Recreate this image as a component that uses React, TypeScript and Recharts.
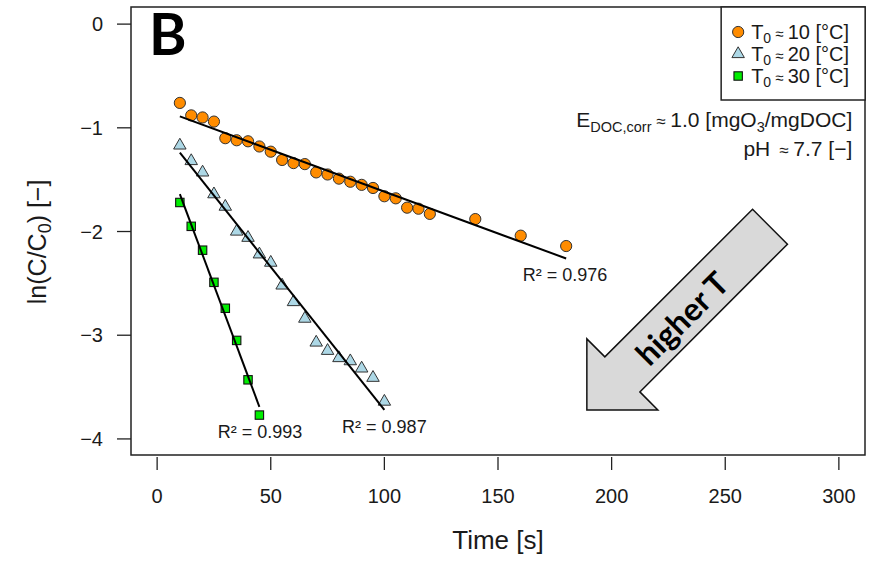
import React from 'react';
import { ScatterChart, Scatter, XAxis, YAxis, ReferenceDot, ReferenceArea } from 'recharts';

const FONT = "'Liberation Sans', Arial, Helvetica, sans-serif";

// --- data ---
const seriesLabels = ['10', '20', '30'];
const seriesColors = ['#FF8C00', '#ADD8E6', '#00EE00'];
const seriesShapes = ['circle', 'triangle', 'square'];

const times10 = [10, 15, 20, 25, 30, 35, 40, 45, 50, 55, 60, 65, 70, 75, 80, 85, 90, 95, 100, 105, 110, 115, 120, 140, 160, 180];
const lnC10 = [-0.76, -0.88, -0.9, -0.94, -1.1, -1.12, -1.13, -1.18, -1.23, -1.31, -1.34, -1.35, -1.43, -1.45, -1.49, -1.52, -1.55, -1.58, -1.66, -1.68, -1.77, -1.78, -1.83, -1.88, -2.04, -2.14];

const times20 = [10, 15, 20, 25, 30, 35, 40, 45, 50, 55, 60, 65, 70, 75, 80, 85, 90, 95, 100];
const lnC20 = [-1.17, -1.32, -1.43, -1.64, -1.76, -2.0, -2.06, -2.22, -2.3, -2.52, -2.68, -2.84, -3.07, -3.15, -3.22, -3.25, -3.32, -3.41, -3.64];

const times30 = [10, 15, 20, 25, 30, 35, 40, 45];
const lnC30 = [-1.72, -1.95, -2.18, -2.49, -2.74, -3.05, -3.43, -3.77];

const fitT10 = [10, 180];
const fitY10 = [-0.89, -2.26];
const fitT20 = [10, 100];
const fitY20 = [-1.24, -3.72];
const fitT30 = [10, 45];
const fitY30 = [-1.64, -3.69];

const r2Text = ['R² = 0.976', 'R² = 0.987', 'R² = 0.993'];
const r2T = [179.5, 100, 45.3];
const r2V = [-2.48, -3.94, -3.99];

const xTicks = [0, 50, 100, 150, 200, 250, 300];
const yTicks = [0, -1, -2, -3, -4];
const xDomain = [-11.5, 311.5];
const yDomain = [-4.155, 0.165];

const toRows = (ts: number[], vs: number[]) => ts.map((t, i) => ({ t, v: vs[i] }));
const data10 = toRows(times10, lnC10);
const data20 = toRows(times20, lnC20);
const data30 = toRows(times30, lnC30);
const fit10 = toRows(fitT10, fitY10);
const fit20 = toRows(fitT20, fitY20);
const fit30 = toRows(fitT30, fitY30);

const STROKE = '#333';

function Marker({ kind, cx, cy, color }: any) {
  if (kind === 'circle') {
    return <circle cx={cx} cy={cy} r={5.6} fill={color} stroke={STROKE} strokeWidth={1} />;
  }
  if (kind === 'triangle') {
    const r = 7.2;
    const pts = `${cx},${cy - r} ${cx + r * 0.866},${cy + r / 2} ${cx - r * 0.866},${cy + r / 2}`;
    return <polygon points={pts} fill={color} stroke={STROKE} strokeWidth={1} />;
  }
  const s = 8.4;
  return <rect x={cx - s / 2} y={cy - s / 2} width={s} height={s} fill={color} stroke="#111" strokeWidth={1.1} />;
}

const XTick = (p: any) => {
  const { x, y, payload } = p;
  return (
    <g>
      <line x1={x} x2={x} y1={y + 2} y2={y + 15} stroke="#222" strokeWidth={1.3} />
      <text x={x} y={y + 48} textAnchor="middle" fontSize={20} fontFamily={FONT} fill="#1a1a1a">
        {payload.value}
      </text>
    </g>
  );
};

const YTick = (p: any) => {
  const { x, y, payload } = p;
  const v = payload.value;
  const label = v < 0 ? `\u2212${Math.abs(v)}` : `${v}`;
  return (
    <g>
      <line x1={x - 14} x2={x} y1={y} y2={y} stroke="#222" strokeWidth={1.3} />
      <text x={x - 28} y={y} dy="0.35em" textAnchor="end" fontSize={20} fontFamily={FONT} fill="#1a1a1a">
        {label}
      </text>
    </g>
  );
};

const noShape = () => <g />;

export default function App() {
  return (
    <div style={{ position: 'absolute', left: 0, top: 0, background: '#fff' }}>
      <ScatterChart width={871} height={563} margin={{ top: 7, right: 6, bottom: 0, left: 0 }}>
        <XAxis
          type="number"
          dataKey="t"
          domain={xDomain}
          allowDataOverflow
          ticks={xTicks}
          interval={0}
          height={108}
          tickSize={0}
          tickMargin={0}
          axisLine={false}
          tickLine={false}
          tick={XTick}
        />
        <YAxis
          type="number"
          dataKey="v"
          domain={yDomain}
          allowDataOverflow
          ticks={yTicks}
          interval={0}
          width={131}
          tickSize={0}
          tickMargin={0}
          axisLine={false}
          tickLine={false}
          tick={YTick}
        />
        <ReferenceArea
          x1={xDomain[0]}
          x2={xDomain[1]}
          y1={yDomain[0]}
          y2={yDomain[1]}
          fill="none"
          fillOpacity={0}
          stroke="#222"
          strokeWidth={1.5}
          ifOverflow="visible"
        />
        {[data10, data20, data30].map((d, i) => (
          <Scatter
            key={'s' + i}
            name={seriesLabels[i]}
            data={d}
            fill={seriesColors[i]}
            isAnimationActive={false}
            shape={(p: any) => <Marker kind={seriesShapes[i]} cx={p.cx} cy={p.cy} color={seriesColors[i]} />}
          />
        ))}
        {[fit10, fit20, fit30].map((d, i) => (
          <Scatter
            key={'f' + i}
            data={d}
            legendType="none"
            line={{ stroke: '#000', strokeWidth: 2 }}
            shape={noShape}
            isAnimationActive={false}
          />
        ))}
        {r2Text.map((txt, i) => (
          <ReferenceDot
            key={'r' + i}
            x={r2T[i]}
            y={r2V[i]}
            r={0}
            ifOverflow="visible"
            shape={(p: any) => (
              <text x={p.cx} y={p.cy} textAnchor="middle" fontSize={18} fontFamily={FONT} fill="#1a1a1a">
                {txt}
              </text>
            )}
          />
        ))}
        {/* panel letter */}
        <ReferenceDot
          x={-3.6}
          y={-0.3}
          r={0}
          ifOverflow="visible"
          shape={(p: any) => (
            <text x={p.cx} y={p.cy} fontSize={57} fontWeight={700} fontFamily="Lato, 'Open Sans', sans-serif" fill="#000">
              B
            </text>
          )}
        />
        {/* legend */}
        <ReferenceDot
          x={248.2}
          y={yDomain[1]}
          r={0}
          ifOverflow="visible"
          shape={(p: any) => (
            <g>
              <rect x={p.cx} y={p.cy} width={144} height={93} fill="#fff" stroke="#222" strokeWidth={1.5} />
              {seriesLabels.map((lab, i) => (
                <g key={lab}>
                  <Marker kind={seriesShapes[i]} cx={p.cx + 17} cy={p.cy + 25 + i * 22} color={seriesColors[i]} />
                  <text x={p.cx + 30} y={p.cy + 25 + i * 22} dy="0.36em" fontSize={20} fontFamily={FONT} fill="#1a1a1a">
                    T
                    <tspan fontSize={14} dy={4}>0</tspan>
                    <tspan dy={-4} fontSize={15}> ≈ </tspan>
                    <tspan>{lab} [°C]</tspan>
                  </text>
                </g>
              ))}
            </g>
          )}
        />
        {/* annotations */}
        <ReferenceDot
          x={305.9}
          y={-0.99}
          r={0}
          ifOverflow="visible"
          shape={(p: any) => (
            <g>
              <text x={p.cx} y={p.cy} textAnchor="end" fontSize={21} fontFamily={FONT} fill="#1a1a1a">
                E<tspan fontSize={14.5} dy={5}>DOC,corr</tspan>
                <tspan dy={-5} fontSize={17}> ≈ </tspan>
                <tspan>1.0 [mgO</tspan>
                <tspan fontSize={14.5} dy={5}>3</tspan>
                <tspan dy={-5}>/mgDOC]</tspan>
              </text>
              <text x={p.cx} y={p.cy + 29.5} textAnchor="end" fontSize={21} fontFamily={FONT} fill="#1a1a1a">
                pH<tspan fontSize={17} dx={9}>≈ </tspan>
                <tspan>7.7 [−]</tspan>
              </text>
            </g>
          )}
        />
        {/* arrow */}
        <ReferenceDot
          x={189.1}
          y={-3.72}
          r={0}
          ifOverflow="visible"
          shape={(p: any) => {
            const cx = p.cx;
            const cy = p.cy;
            const pts = [
              [0, 0],
              [0, -71],
              [18, -53],
              [165.7, -200.6],
              [200.6, -165.7],
              [53, -18],
              [71, 0],
            ]
              .map(([dx, dy]) => `${cx + dx},${cy + dy}`)
              .join(' ');
            const a = 132;
            const b = 3;
            const tx = cx + (a + b) / Math.SQRT2;
            const ty = cy + (b - a) / Math.SQRT2;
            return (
              <g>
                <polygon points={pts} fill="#d9d9d9" stroke="#111" strokeWidth={1.5} />
                <text
                  x={0}
                  y={0}
                  dy="0.35em"
                  textAnchor="middle"
                  transform={`translate(${tx},${ty}) rotate(-45)`}
                  fontSize={32}
                  fontWeight={700}
                  fontFamily="Lato, 'Open Sans', sans-serif"
                  fill="#000"
                >
                  higher T
                </text>
              </g>
            );
          }}
        />
        {/* axis titles */}
        <ReferenceDot
          x={xDomain[0]}
          y={-2.1}
          r={0}
          ifOverflow="visible"
          shape={(p: any) => (
            <text
              x={0}
              y={0}
              dy="0.35em"
              textAnchor="middle"
              transform={`translate(${p.cx - 94},${p.cy}) rotate(-90)`}
              fontSize={25}
              fontFamily={FONT}
              fill="#1a1a1a"
            >
              ln(C/C<tspan fontSize={18} dy={5}>0</tspan>
              <tspan dy={-5}>) [−]</tspan>
            </text>
          )}
        />
        <ReferenceDot
          x={150}
          y={yDomain[0]}
          r={0}
          ifOverflow="visible"
          shape={(p: any) => (
            <text x={p.cx} y={p.cy + 94} textAnchor="middle" fontSize={26} fontFamily={FONT} fill="#1a1a1a">
              Time [s]
            </text>
          )}
        />
      </ScatterChart>
    </div>
  );
}
